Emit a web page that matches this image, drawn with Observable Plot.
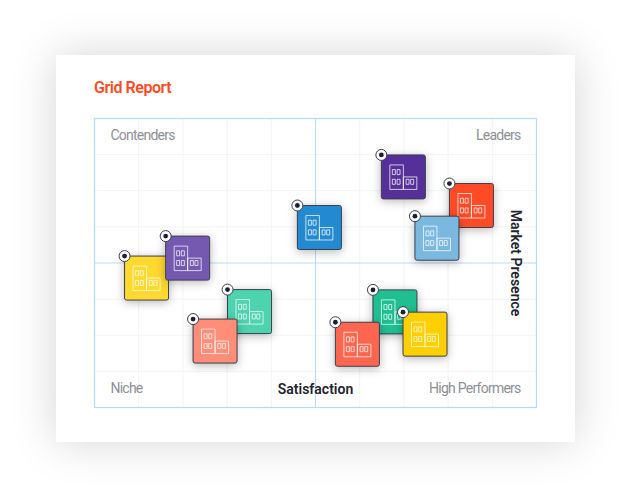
<!DOCTYPE html>
<html><head><meta charset="utf-8">
<script src="https://cdn.jsdelivr.net/npm/d3@7"></script>
<script src="https://cdn.jsdelivr.net/npm/@observablehq/plot@0.6"></script>
<style>
html,body{margin:0;padding:0;background:#fff;width:630px;height:498px;overflow:hidden}
#card{position:absolute;left:55.5px;top:55px;width:519px;height:387px;background:#fff;box-shadow:0 0 42px rgba(0,0,0,.17)}
#chart{position:absolute;left:0;top:0}
#chart svg{background:transparent!important;display:block}
#chart g[fill="#8d9096"] text{letter-spacing:-.75px}
#title{position:absolute;left:94px;top:78px;font:600 16px/20px Roboto,sans-serif;color:#ff4a26;letter-spacing:-.45px}
</style></head>
<body>
<div id="card"></div>
<div id="chart"></div>
<div id="title">Grid Report</div>
<script>
const tileX = [6.8, 16.1, 30.1, 22.3, 63.0, 54.5, 69.8, 64.9, 80.3, 72.5, 45.9];
const tileY = [52.4, 59.3, 40.8, 30.6, 40.7, 29.5, 33.0, 87.4, 77.5, 66.2, 69.9];
const tileColors = ["#ffd92e","#7558b0","#4dd3ae","#ff8d78","#1fbf92","#ff6650","#ffcf00","#553098","#ff4a26","#7ab8df","#2389d1"];
const gridXValues = [10,20,30,40,60,70,80,90];
const gridYValues = [12.5,25,37.5,62.5,75,87.5];
const midValue = [50];
const startLabels = ["Contenders","Niche"];
const startX = [3.6,3.6];
const startY = [94.1,6.5];
const endLabels = ["Leaders","High Performers"];
const endX = [96.4,96.4];
const endY = [94.1,6.5];

const T = 44;
const tileSymbol = {draw(c){
  const r = 2;
  c.moveTo(r,0); c.lineTo(T-r,0); c.arcTo(T,0,T,r,r); c.lineTo(T,T-r); c.arcTo(T,T,T-r,T,r);
  c.lineTo(r,T); c.arcTo(0,T,0,T-r,r); c.lineTo(0,r); c.arcTo(0,0,r,0,r); c.closePath();
}};
const box = (c,x0,y0,x1,y1)=>{c.moveTo(x0,y0);c.lineTo(x1,y0);c.lineTo(x1,y1);c.lineTo(x0,y1);c.closePath();};
const iconSymbol = {draw(c){
  box(c,8.5,10,22,34.5); box(c,22,22,35.5,34.5);
  for (const wy of [14.7,24.4]) for (const wx of [11,15.7]) box(c,wx,wy,wx+3,wy+5);
  for (const wx of [24.7,29.3]) box(c,wx,24.4,wx+3,29.4);
}};

const tiles = tileX.map((x,i)=>({x,y:tileY[i],color:tileColors[i]}));
const tileMarks = tiles.flatMap(t=>[
  Plot.dot([t],{x:"x",y:"y",symbol:tileSymbol,fill:t.color,stroke:"#3b3f50",strokeWidth:1,imageFilter:"drop-shadow(0 2px 5px rgba(0,0,0,.28))"}),
  Plot.dot([t],{x:"x",y:"y",symbol:iconSymbol,fill:"none",stroke:"#fff",strokeOpacity:.72,strokeWidth:1}),
  Plot.dot([t],{x:"x",y:"y",r:5.5,fill:"#fff",stroke:"#3b3f50",strokeWidth:1}),
  Plot.dot([t],{x:"x",y:"y",r:2.4,fill:"#1d2033"})
]);

const chart = Plot.plot({
  width:630,height:498,marginLeft:94,marginRight:94,marginTop:118,marginBottom:91,
  style:{background:"transparent",fontFamily:"Roboto, sans-serif"},
  x:{domain:[0,100],axis:null},
  y:{domain:[0,100],axis:null},
  marks:[
    Plot.ruleX(gridXValues,{stroke:"#f1f3f5",strokeWidth:1}),
    Plot.ruleY(gridYValues,{stroke:"#f1f3f5",strokeWidth:1}),
    Plot.ruleX(midValue,{stroke:"#b9dcf2",strokeWidth:1}),
    Plot.ruleY(midValue,{stroke:"#b9dcf2",strokeWidth:1}),
    Plot.frame({stroke:"#b6dcf5",strokeWidth:1.3}),
    Plot.text(startLabels,{x:startX,y:startY,text:d=>d,textAnchor:"start",fill:"#8d9096",fontSize:14}),
    Plot.text(endLabels,{x:endX,y:endY,text:d=>d,textAnchor:"end",fill:"#8d9096",fontSize:14}),
    Plot.text(["Satisfaction"],{x:midValue,y:[6.2],text:d=>d,fill:"#22242e",fontSize:14,fontWeight:600}),
    Plot.text(["Market Presence"],{x:[95.3],y:midValue,text:d=>d,rotate:90,fill:"#22242e",fontSize:14,fontWeight:600}),
    ...tileMarks
  ]
});
document.getElementById("chart").append(chart);
</script>
</body></html>
